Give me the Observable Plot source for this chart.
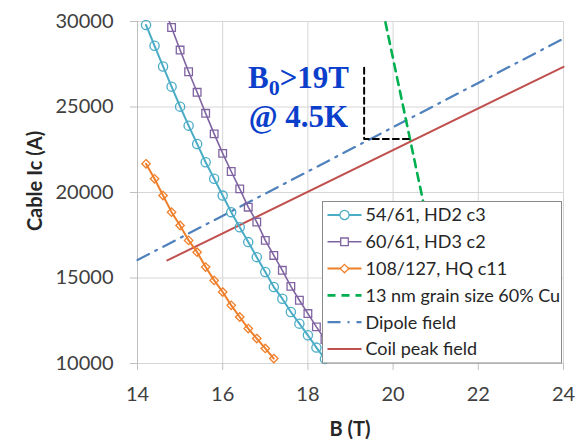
<!DOCTYPE html>
<html><head><meta charset="utf-8">
<script src="https://cdn.jsdelivr.net/npm/d3@7"></script>
<script src="https://cdn.jsdelivr.net/npm/@observablehq/plot@0.6"></script>
<style>
html,body{margin:0;padding:0;background:#fff;}
#chart svg{display:block;}
</style></head><body><div id="chart"></div>
<script>
// ---- ticks ----
const xTicks = [14, 16, 18, 20, 22, 24];
const yTicks = [10000, 15000, 20000, 25000, 30000];

// ---- series: 54/61, HD2 c3 ----
const hd2B  = [14.2, 14.4, 14.6, 14.8, 15.0, 15.2, 15.4, 15.6, 15.8, 16.0, 16.2, 16.4, 16.6, 16.8, 17.0, 17.2, 17.4, 17.6, 17.8, 18.0, 18.2, 18.4];
const hd2Ic = [29800, 28580, 27370, 26190, 25020, 23910, 22840, 21770, 20800, 19820, 18850, 17970, 17100, 16220, 15350, 14470, 13790, 13010, 12330, 11650, 10930, 10270];

// ---- series: 60/61, HD3 c2 ----
const hd3B  = [14.6, 14.8, 15.0, 15.2, 15.4, 15.6, 15.8, 16.0, 16.2, 16.4, 16.6, 16.8, 17.0, 17.2, 17.4, 17.6, 17.8, 18.0, 18.2, 18.4, 18.6];
const hd3Ic = [30950, 29650, 28330, 27060, 25860, 24630, 23430, 22290, 21230, 20210, 19140, 18270, 17200, 16320, 15450, 14510, 13700, 12920, 12140, 11400, 10700];

// ---- series: 108/127, HQ c11 ----
const hqB  = [14.2, 14.4, 14.6, 14.8, 15.0, 15.2, 15.4, 15.6, 15.8, 16.0, 16.2, 16.4, 16.6, 16.8, 17.0, 17.2];
const hqIc = [21680, 20800, 19820, 18850, 18070, 17200, 16510, 15640, 14860, 14180, 13400, 12720, 12040, 11460, 10880, 10290];

// ---- series: 13 nm grain size 60% Cu ----
const grainB  = [19.82, 20.72];
const grainIc = [29950, 19300];

// ---- Dipole field ----
const dipoleB  = [14, 24];
const dipoleIc = [16050, 29000];

// ---- Coil peak field ----
const coilB  = [14.7, 24];
const coilIc = [16030, 27350];

// ---- target marker (black dashed) ----
const targetB  = [19.32, 19.32, 20.42];
const targetIc = [27300, 23130, 23130];

// ---- annotation ----
const noteLines = [["B", "0", ">19T"], ["@ 4.5K"]];
const noteB = 17.79;
const noteIc = [26054, 23812];

// ---- legend ----
const legendNames = ["54/61, HD2 c3", "60/61, HD3 c2", "108/127, HQ c11", "13 nm grain size 60% Cu", "Dipole field", "Coil peak field"];

const C = {teal: "#4bacc6", purple: "#8064a2", orange: "#f07f2a", green: "#00b050", blue: "#4f81bd", red: "#c0504d"};

const zip = (xs, ys) => xs.map((x, i) => ({x, y: ys[i]}));
const hd2 = zip(hd2B, hd2Ic), hd3 = zip(hd3B, hd3Ic), hq = zip(hqB, hqIc);
const grain = zip(grainB, grainIc), dipole = zip(dipoleB, dipoleIc), coil = zip(coilB, coilIc), target = zip(targetB, targetIc);

const styles = [
  {stroke: C.teal, width: 2, dash: null, symbol: "circle", r: 4.6},
  {stroke: C.purple, width: 1.6, dash: null, symbol: "square", r: 4.3},
  {stroke: C.orange, width: 2, dash: null, symbol: "diamond2", r: 3.8},
  {stroke: C.green, width: 2.6, dash: "8,6", symbol: null},
  {stroke: C.blue, width: 2.2, dash: "13,7,2,7", symbol: null},
  {stroke: C.red, width: 2, dash: null, symbol: null}
];

const chart = Plot.plot({
  width: 588, height: 442,
  marginLeft: 137, marginRight: 25, marginTop: 21, marginBottom: 79,
  style: {fontFamily: "Lato", fontSize: "20px", color: "#404040", background: "white", overflow: "visible"},
  x: {domain: [14, 24], label: null},
  y: {domain: [10000, 30000], label: null},
  marks: [
    Plot.gridX({ticks: xTicks, stroke: "#d6d6d6", strokeOpacity: 1}),
    Plot.gridY({ticks: yTicks, stroke: "#d6d6d6", strokeOpacity: 1}),
    Plot.axisX({ticks: xTicks, tickSize: 7, tickPadding: 16, stroke: "#bfbfbf", fill: "#404040", label: null}),
    Plot.axisY({ticks: yTicks, tickSize: 7, tickPadding: 17, tickFormat: d3.format("d"), stroke: "#bfbfbf", fill: "#404040", label: null}),
    Plot.ruleX([14], {stroke: "#bfbfbf"}),
    Plot.line(dipole, {x: "x", y: "y", stroke: C.blue, strokeWidth: 2.2, strokeDasharray: "13,7,2,7"}),
    Plot.line(coil, {x: "x", y: "y", stroke: C.red, strokeWidth: 2}),
    Plot.line(grain, {x: "x", y: "y", stroke: C.green, strokeWidth: 2.6, strokeDasharray: "8,6", clip: true}),
    Plot.line(target, {x: "x", y: "y", stroke: "black", strokeWidth: 2, strokeDasharray: "6,4"}),
    Plot.line(hq, {x: "x", y: "y", stroke: C.orange, strokeWidth: 2}),
    Plot.dot(hq, {x: "x", y: "y", symbol: "diamond2", r: 3.8, stroke: C.orange, strokeWidth: 1.3, fill: "none"}),
    Plot.line(hd2, {x: "x", y: "y", stroke: C.teal, strokeWidth: 2}),
    Plot.dot(hd2, {x: "x", y: "y", symbol: "circle", r: 4.6, stroke: C.teal, strokeWidth: 1.3, fill: "none"}),
    Plot.line(hd3, {x: "x", y: "y", stroke: C.purple, strokeWidth: 1.6, clip: true}),
    Plot.dot(hd3, {x: "x", y: "y", symbol: "square", r: 4.3, stroke: C.purple, strokeWidth: 1.3, fill: "none", clip: true})
  ]
});
document.getElementById("chart").appendChild(chart);

const svg = d3.select(chart);
const sx = chart.scale("x"), sy = chart.scale("y");

// annotation text
const note = svg.append("g")
  .attr("font-family", "Liberation Serif, Times New Roman, serif")
  .attr("font-weight", "bold").attr("font-size", 31).attr("fill", "#0b3fcb")
  .attr("text-anchor", "middle");
noteLines.forEach((parts, i) => {
  const t = note.append("text").attr("x", sx.apply(noteB)).attr("y", sy.apply(noteIc[i]));
  if (parts.length === 3) {
    t.append("tspan").text(parts[0]);
    t.append("tspan").attr("font-size", 22).attr("dy", 7).text(parts[1]);
    t.append("tspan").attr("dy", -7).text(parts[2]);
  } else t.text(parts[0]);
});

// axis titles
svg.append("text").attr("transform", "translate(35,181) rotate(-90)")
  .attr("text-anchor", "middle").attr("dy", "0.35em")
  .attr("font-family", "Lato").attr("font-weight", "bold").attr("font-size", 20).attr("fill", "#262626")
  .text("Cable Ic (A)");
svg.append("text").attr("x", sx.apply(19)).attr("y", 436)
  .attr("text-anchor", "middle")
  .attr("font-family", "Lato").attr("font-weight", "bold").attr("font-size", 20).attr("fill", "#262626")
  .text("B (T)");

// legend
const lg = svg.append("g").attr("transform", "translate(322.5,201.5)");
lg.append("rect").attr("width", 239).attr("height", 161.5).attr("fill", "white").attr("stroke", "#8a8a8a").attr("stroke-width", 1);
legendNames.forEach((name, i) => {
  const s = styles[i];
  const y = 13.5 + 26.8 * i;
  lg.append("line").attr("x1", 5).attr("x2", 39).attr("y1", y).attr("y2", y)
    .attr("stroke", s.stroke).attr("stroke-width", s.width)
    .attr("stroke-dasharray", s.dash);
  if (s.symbol) {
    const sym = {circle: d3.symbolCircle, square: d3.symbolSquare, diamond2: d3.symbolDiamond2}[s.symbol];
    lg.append("path").attr("d", d3.symbol(sym, Math.PI * s.r * s.r)())
      .attr("transform", `translate(22,${y})`)
      .attr("fill", "white").attr("stroke", s.stroke).attr("stroke-width", 1.3);
  }
  lg.append("text").attr("x", 43).attr("y", y).attr("dy", "0.36em")
    .attr("text-anchor", "start")
    .attr("font-family", "Lato").attr("font-size", 18).attr("fill", "#262626")
    .text(name);
});
</script></body></html>
